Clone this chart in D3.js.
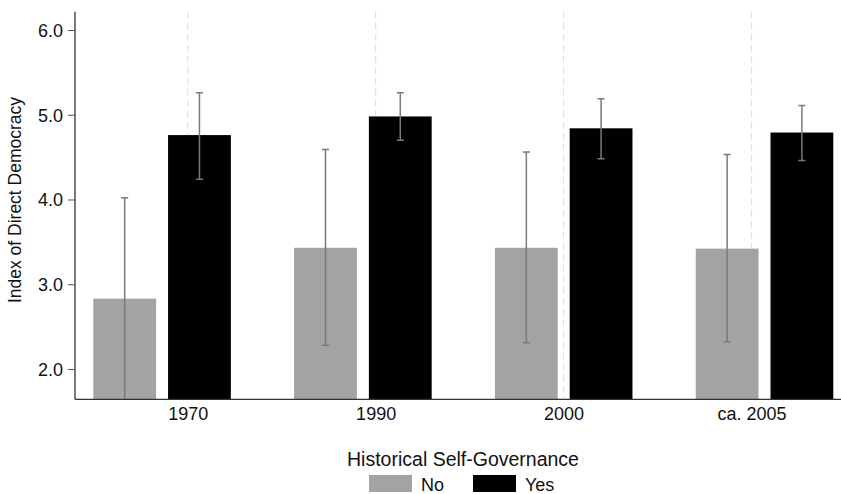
<!DOCTYPE html>
<html><head><meta charset="utf-8">
<script src="https://cdn.jsdelivr.net/npm/d3@7"></script>
<style>
html,body{margin:0;padding:0;background:#fff;}
text{font-family:"Liberation Sans",Arial,Helvetica,sans-serif;fill:#111;}
</style></head>
<body><svg id="c" width="841" height="494"></svg>
<script>
const categories = ["1970", "1990", "2000", "ca. 2005"];
const groups = ["No", "Yes"];
const valuesNo  = [2.83, 3.43, 3.43, 3.42];
const valuesYes = [4.76, 4.98, 4.84, 4.79];
const lowNo  = [1.60, 2.28, 2.31, 2.32];
const highNo = [4.02, 4.59, 4.56, 4.53];
const lowYes  = [4.24, 4.70, 4.48, 4.46];
const highYes = [5.26, 5.26, 5.19, 5.11];
const yTicks = [2, 3, 4, 5, 6];
const yTitle = "Index of Direct Democracy";
const legendTitle = "Historical Self-Governance";
const colors = {No: "#a3a3a3", Yes: "#000000"};

const svg = d3.select("#c");
const y = d3.scaleLinear().domain([1.642, 6.216]).range([399.3, 11.7]);
const xBand = d3.scaleBand().domain(categories).range([93.3, 833.3]).paddingInner(0.315).paddingOuter(0);
const xInner = d3.scaleBand().domain(groups).range([0, xBand.bandwidth()]).paddingInner(0.16).paddingOuter(0);
const xLab = d3.scalePoint().domain(categories).range([187.7, 751.5]);

const data = [];
categories.forEach((c, i) => {
  data.push({cat: c, g: "No", v: valuesNo[i], lo: lowNo[i], hi: highNo[i]});
  data.push({cat: c, g: "Yes", v: valuesYes[i], lo: lowYes[i], hi: highYes[i]});
});

svg.append("clipPath").attr("id", "plotclip").append("rect")
  .attr("x", 75).attr("y", y.range()[1]).attr("width", 766).attr("height", y.range()[0] - y.range()[1]);

// dashed gridlines at category labels
svg.append("g").selectAll("line").data(categories).join("line")
  .attr("x1", d => xLab(d)).attr("x2", d => xLab(d))
  .attr("y1", y.range()[1]).attr("y2", y.range()[0])
  .attr("stroke", "#e2e2e2").attr("stroke-width", 1.2).attr("stroke-dasharray", "7,4");

const plot = svg.append("g").attr("clip-path", "url(#plotclip)");
plot.selectAll("rect.bar").data(data).join("rect").attr("class", "bar")
  .attr("x", d => xBand(d.cat) + xInner(d.g))
  .attr("width", xInner.bandwidth())
  .attr("y", d => y(d.v))
  .attr("height", d => y.range()[0] - y(d.v))
  .attr("fill", d => colors[d.g]);

const eb = plot.append("g").attr("stroke", "#7a7a7a").attr("stroke-width", 1.5);
data.forEach(d => {
  const cx = xBand(d.cat) + xInner(d.g) + xInner.bandwidth() / 2;
  eb.append("line").attr("x1", cx).attr("x2", cx).attr("y1", y(d.hi)).attr("y2", y(d.lo));
  [d.hi, d.lo].forEach(v => {
    eb.append("line").attr("x1", cx - 3.5).attr("x2", cx + 3.5).attr("y1", y(v)).attr("y2", y(v));
  });
});

// y axis
const yAxis = svg.append("g").attr("transform", "translate(75,0)")
  .call(d3.axisLeft(y).tickValues(yTicks).tickFormat(d3.format(".1f")).tickSize(7).tickPadding(5));
yAxis.select(".domain").attr("stroke", "#333").attr("stroke-width", 1.3).attr("d", `M0,${y.range()[1]}V${y.range()[0]}`);
yAxis.selectAll(".tick line").attr("stroke", "#555");
yAxis.selectAll(".tick text").attr("font-size", 18).attr("fill", "#111").attr("dy", "0.36em");

// x axis
const xAxis = svg.append("g").attr("transform", `translate(0,${y.range()[0]})`)
  .call(d3.axisBottom(xLab).tickSize(0).tickPadding(8));
xAxis.select(".domain").attr("stroke", "#333").attr("stroke-width", 1.3).attr("d", "M75,0H841");
xAxis.selectAll(".tick text").attr("font-size", 18).attr("fill", "#111").attr("dy", "0.71em");

// y title
svg.append("text").attr("transform", "translate(21,200) rotate(-90)")
  .attr("text-anchor", "middle").attr("font-size", 17.5).text(yTitle);

// legend
svg.append("text").attr("x", 463).attr("y", 466).attr("text-anchor", "middle")
  .attr("font-size", 19.5).text(legendTitle);
const legX = {No: 369, Yes: 473};
groups.forEach(g => {
  svg.append("rect").attr("x", legX[g]).attr("y", 475).attr("width", 43).attr("height", 17).attr("fill", colors[g]);
  svg.append("text").attr("x", legX[g] + 52).attr("y", 491).attr("font-size", 18).text(g);
});
</script></body></html>
